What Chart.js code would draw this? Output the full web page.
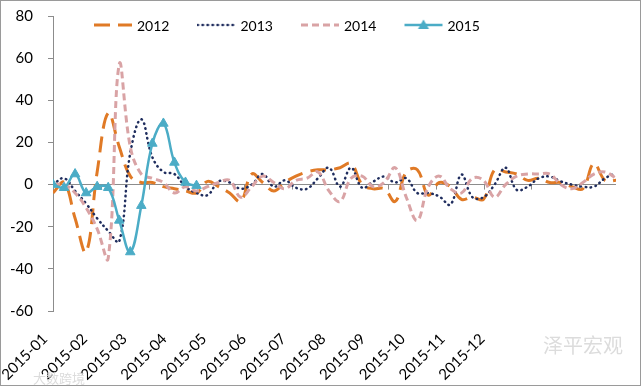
<!DOCTYPE html>
<html>
<head>
<meta charset="utf-8">
<script src="https://cdn.jsdelivr.net/npm/chart.js@4.4.1/dist/chart.umd.min.js"></script>
<style>
  html, body { margin: 0; padding: 0; background: #fff; }
  #wrap { position: relative; width: 643px; height: 389px; }
  #frame { position: absolute; left: 0; top: 0; width: 639px; height: 384px; border: 1px solid #9a9a9a; pointer-events: none; }
  canvas { position: absolute; left: 0; top: 0; }
  .wm { position: absolute; color: #dcdcdc; font-family: "Noto Sans CJK SC", sans-serif; white-space: nowrap; }
</style>
</head>
<body>
<div id="wrap">
  <canvas id="chart" width="643" height="389"></canvas>
  <div id="frame"></div>
  <div class="wm" style="left:33px; top:368px; font-size:13px;">大数跨境</div>
  <div class="wm" style="left:543px; top:330px; font-size:20px;">泽平宏观</div>
</div>
<script>
// weekly values, one per week of the year
const s2012 = [-4, 1, -16, -32, 6, 34, 18, 4, 1, 1, -1, -2, -3, -4, 1.5, -1, -4, -8, 5, 1,
  -3, 1, 4, 6, 7, 7, 8, 10, 0, -2, -2, -8, 6, 7, -5, 1, -1, -7, -6, -7,
  7, 6, 5, 2, 3, 1, 1, -1, -2, 10, 2, 2];
const s2013 = [0, 3, -3, -9, -16, -22, -27, 15, 31, 13, 6, 5, -1, -4, -5, 1.5, 1, -2, 0, 5,
  -1, 2, -1.5, -2, 3, 8, -1, 8, -1.5, 1.4, 3.8, 1, 3, -4, -4, -5.7, -9.5, 4.7, -6, -6,
  0, 8, -2.5, -1, 3, 3.8, 1.5, 0, -1, -1, 3, 5.5];
const s2014 = [0, 0, -4, -11, -21, -35, 57, 18, 5, 3, 1, -4, -1, -3, -1, 1, 2, -6, -1, 4,
  1, -2, 2, 3, 6, -3, -8, 3, 4, -1, 1, 8, -6, -17, -1, 4, -2, -4, 3, 2,
  -6, 0, 4, 5, 5, 5, 0, -2, 1, 5, 6, 3];
const s2015 = [0, -1.5, 5, -4, -1, -1.5, -17, -32, -10, 19.5, 29, 10.5, 1, -0.5];

const seriesNames = ['2012', '2013', '2014', '2015'];
const monthLabels = ['2015-01', '2015-02', '2015-03', '2015-04', '2015-05', '2015-06',
  '2015-07', '2015-08', '2015-09', '2015-10', '2015-11', '2015-12'];

const colors = ['#e07a26', '#1f2d5e', '#d9a3a5', '#4bacc6'];
const dashes = [[16, 8], [0.5, 4.5], [7, 4], []];
const widths = [3, 2.5, 3, 2.5];
const caps = ['butt', 'round', 'butt', 'butt'];

Chart.defaults.font.family = 'Lato, "Open Sans", sans-serif';
Chart.defaults.color = '#000';

function toPoints(arr) {
  return arr.map((v, i) => ({ x: i, y: v }));
}

function swatch(i) {
  const c = document.createElement('canvas');
  c.width = 40;
  c.height = 14;
  const g = c.getContext('2d');
  g.strokeStyle = colors[i];
  g.lineWidth = widths[i];
  g.lineCap = caps[i];
  g.setLineDash(dashes[i]);
  g.beginPath();
  g.moveTo(1, 7);
  g.lineTo(39, 7);
  g.stroke();
  if (i === 3) {
    g.fillStyle = colors[i];
    g.beginPath();
    g.moveTo(20, 1.5);
    g.lineTo(25.5, 11);
    g.lineTo(14.5, 11);
    g.closePath();
    g.fill();
  }
  return c;
}
const swatches = seriesNames.map((_, i) => swatch(i));

// legend in one row inside the plot, like the Excel original
const rowLegend = {
  id: 'rowLegend',
  afterDraw(chart) {
    const ctx = chart.ctx;
    ctx.save();
    ctx.font = '14px Lato';
    ctx.fillStyle = '#000';
    ctx.textBaseline = 'middle';
    let x = 93;
    const y = 25;
    chart.data.datasets.forEach((ds, i) => {
      ctx.drawImage(swatches[i], x, y - 7);
      ctx.fillText(ds.label, x + 44, y + 1);
      x += 103.5;
    });
    ctx.restore();
  }
};

// small tick marks on the zero line at each month
const zeroTicks = {
  id: 'zeroTicks',
  beforeDatasetsDraw(chart) {
    const xs = chart.scales.x;
    const ys = chart.scales.y;
    const y0 = ys.getPixelForValue(0);
    const ctx = chart.ctx;
    ctx.save();
    ctx.strokeStyle = '#8c8c8c';
    ctx.lineWidth = 1;
    for (let k = 0; k < 12; k++) {
      const x = Math.round(xs.getPixelForValue(k * 52 / 12)) + 0.5;
      ctx.beginPath();
      ctx.moveTo(x, y0);
      ctx.lineTo(x, y0 + 5);
      ctx.stroke();
    }
    ctx.restore();
  }
};

const datasets = [s2012, s2013, s2014, s2015].map((arr, i) => ({
  label: seriesNames[i],
  data: toPoints(arr),
  borderColor: colors[i],
  backgroundColor: colors[i],
  borderWidth: widths[i],
  borderDash: dashes[i],
  borderCapStyle: caps[i],
  tension: 0.4,
  fill: false,
  pointRadius: i === 3 ? 5.5 : 0,
  pointStyle: 'triangle',
  pointBackgroundColor: colors[i],
  pointBorderColor: colors[i],
  pointBorderWidth: 1,
  order: 3 - i
}));

new Chart(document.getElementById('chart'), {
  type: 'line',
  data: { datasets },
  plugins: [rowLegend, zeroTicks],
  options: {
    responsive: false,
    animation: false,
    layout: { padding: { left: 11, right: 27, top: 16, bottom: 0 } },
    scales: {
      x: {
        type: 'linear',
        min: 0,
        max: 51,
        grid: { display: false },
        border: { display: false },
        afterBuildTicks(scale) {
          scale.ticks = monthLabels.map((_, k) => ({ value: -0.72 + k * 3.6 }));
        },
        afterFit(scale) {
          scale.paddingLeft = 0;
          scale.paddingRight = 0;
          scale.height = 78;
        },
        ticks: {
          autoSkip: false,
          minRotation: 45,
          maxRotation: 45,
          padding: 11,
          font: { size: 15 },
          callback: (v, idx) => monthLabels[idx]
        }
      },
      y: {
        min: -60,
        max: 80,
        afterFit(scale) {
          scale.width = 42;
          scale.paddingTop = 0;
          scale.paddingBottom = 0;
        },
        ticks: { stepSize: 20, padding: 15, font: { size: 15 } },
        border: { display: true, color: '#8c8c8c', width: 1 },
        grid: {
          color: ctx => (ctx.tick && ctx.tick.value === 0 ? '#8c8c8c' : 'rgba(0,0,0,0)'),
          tickColor: '#8c8c8c',
          tickLength: 5,
          lineWidth: 1
        }
      }
    },
    plugins: {
      tooltip: { enabled: false },
      legend: { display: false }
    }
  }
});
</script>
</body>
</html>
